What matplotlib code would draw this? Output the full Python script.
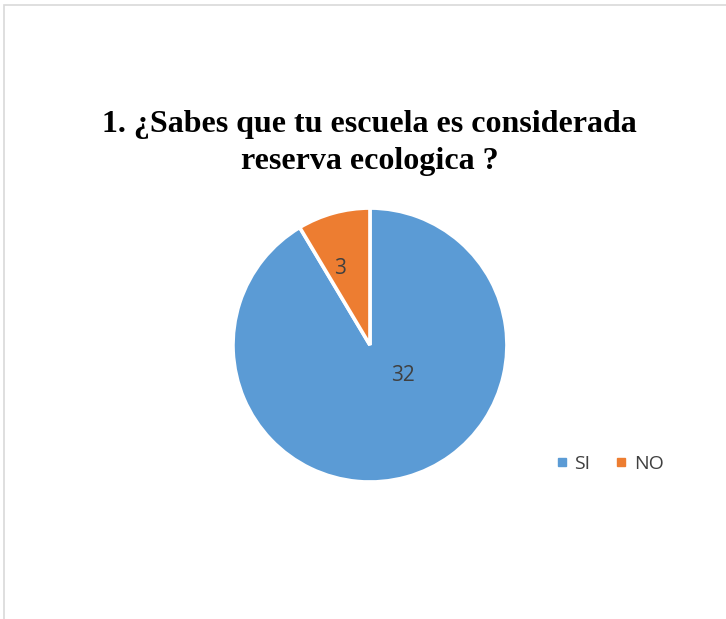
import matplotlib.pyplot as plt
from matplotlib.patches import Rectangle
from matplotlib.lines import Line2D

# data
labels = ['SI', 'NO']
values = [32, 3]
colors = ['#5B9BD5', '#ED7D31']
title = '1. ¿Sabes que tu escuela es considerada\nreserva ecologica ?'

fig = plt.figure(figsize=(7.26, 6.19), dpi=100)

# light gray chart border (cut at right/bottom like the screenshot)
fig.patches.append(Rectangle((4 / 726, -0.01), 1.0, 1 - 5 / 619 + 0.01,
                             transform=fig.transFigure, fill=False,
                             edgecolor='#D9D9D9', linewidth=1.2))

fig.text(0.509, 0.769, title, ha='center', va='center',
         family='Liberation Serif', fontweight='bold', fontsize=23,
         linespacing=1.35)

ax = fig.add_axes([0.3209, 0.2213, 0.3774, 0.4426])
wedges, _ = ax.pie(values, colors=colors, startangle=90, counterclock=False,
                   wedgeprops=dict(edgecolor='white', linewidth=2.6))
ax.set_xlim(-1, 1)
ax.set_ylim(-1, 1)
ax.set_aspect('equal')
ax.axis('off')

# data labels, placed roughly where Excel puts them
ax.text(0.24, -0.22, str(values[0]), ha='center', va='center',
        family='Open Sans', fontsize=15, color='#404040')
ax.text(-0.22, 0.56, str(values[1]), ha='center', va='center',
        family='Open Sans', fontsize=15, color='#404040')

handles = [Line2D([], [], marker='s', linestyle='', markersize=6,
                  markerfacecolor=c, markeredgecolor=c) for c in colors]
fig.legend(handles, labels, loc='center', bbox_to_anchor=(0.84, 0.251),
           ncol=2, frameon=False, handlelength=0.6, handletextpad=0.35,
           columnspacing=1.3, prop=dict(family='Open Sans', size=14),
           labelcolor='#404040')

fig.savefig('out.png', dpi=100)
